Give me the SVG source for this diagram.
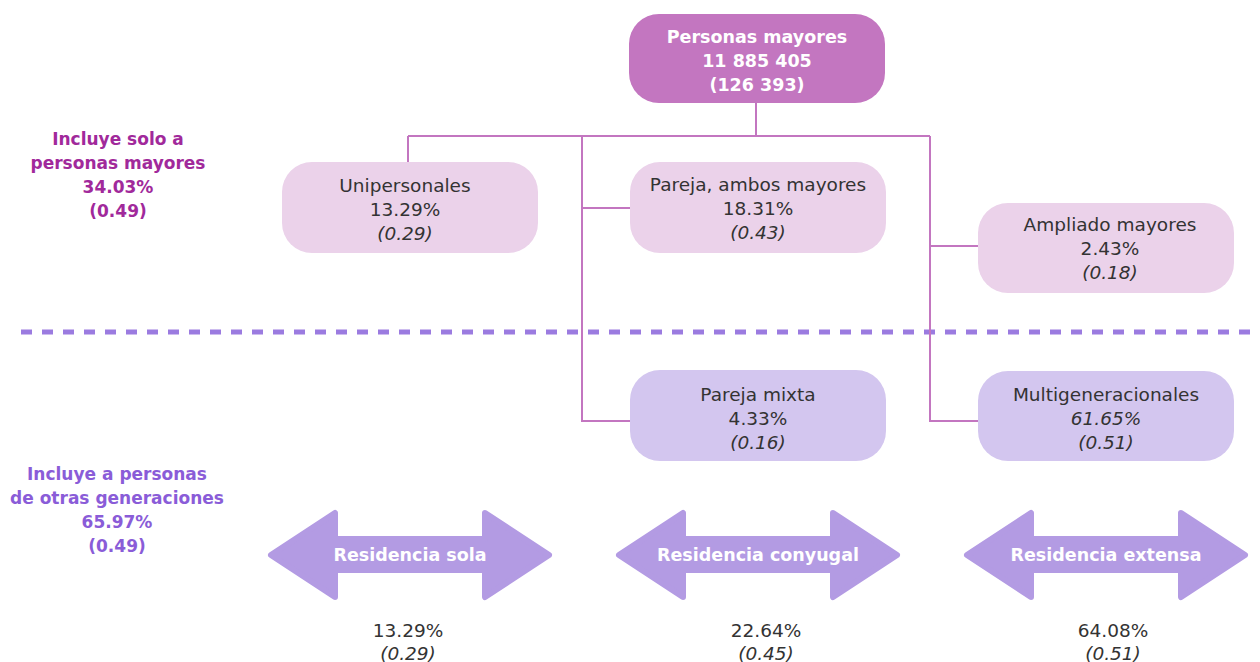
<svg xmlns="http://www.w3.org/2000/svg" width="1260" height="662" viewBox="0 0 1260 662">
<style>
text{font-family:"DejaVu Sans","Noto Sans","Liberation Sans",sans-serif;text-anchor:middle}
.t{font-size:18.5px;fill:#333333}
.i{font-style:italic}
.w{font-size:17.5px;fill:#ffffff;font-weight:bold}
.pink{fill:#ebd2ea}
.lav{fill:#d3c6ef}
.top{fill:#c376c0}
.arr{fill:#b39be3;stroke:#b39be3;stroke-width:6;stroke-linejoin:round}
.c{fill:none;stroke:#c376c0;stroke-width:2}
.m{font-size:17px;font-weight:bold;fill:#a1299b}
.p{font-size:17px;font-weight:bold;fill:#8a5cd8}
</style>
<line x1="16" y1="332" x2="1255" y2="332" stroke="#9b7be0" stroke-width="5" stroke-dasharray="11 10" stroke-dashoffset="16"/>
<g id="connectors">
<path class="c" d="M756 103V136M408 136H930M408 136V162M582 136V421H630M582 208H630M930 136V421H978M930 246H978"/>
</g>
<g id="root">
<rect class="top" x="629" y="14" width="256" height="89" rx="30"/>
<text class="w" x="757" y="43">Personas mayores</text>
<text class="w" x="757" y="67">11 885 405</text>
<text class="w" x="757" y="91">(126 393)</text>
</g>
<g id="unipersonales">
<rect class="pink" x="282" y="162" width="256" height="91" rx="30"/>
<text class="t" x="405" y="192">Unipersonales</text>
<text class="t" x="405" y="216">13.29%</text>
<text class="t i" x="405" y="240">(0.29)</text>
</g>
<g id="pareja-ambos">
<rect class="pink" x="630" y="162" width="256" height="91" rx="30"/>
<text class="t" x="758" y="191">Pareja, ambos mayores</text>
<text class="t" x="758" y="215">18.31%</text>
<text class="t i" x="758" y="239">(0.43)</text>
</g>
<g id="ampliado">
<rect class="pink" x="978" y="203" width="256" height="90" rx="30"/>
<text class="t" x="1110" y="231">Ampliado mayores</text>
<text class="t" x="1110" y="255">2.43%</text>
<text class="t i" x="1110" y="279">(0.18)</text>
</g>
<g id="pareja-mixta">
<rect class="lav" x="630" y="370" width="256" height="91" rx="30"/>
<text class="t" x="758" y="401">Pareja mixta</text>
<text class="t" x="758" y="425">4.33%</text>
<text class="t i" x="758" y="449">(0.16)</text>
</g>
<g id="multigeneracionales">
<rect class="lav" x="978" y="371" width="256" height="90" rx="30"/>
<text class="t" x="1106" y="401">Multigeneracionales</text>
<text class="t i" x="1106" y="425">61.65%</text>
<text class="t i" x="1106" y="449">(0.51)</text>
</g>
<g id="label-solo">
<text class="m" x="118" y="145">Incluye solo a</text>
<text class="m" x="118" y="169">personas mayores</text>
<text class="m" x="118" y="193">34.03%</text>
<text class="m" x="118" y="217">(0.49)</text>
</g>
<g id="label-otras">
<text class="p" x="117" y="480">Incluye a personas</text>
<text class="p" x="117" y="504">de otras generaciones</text>
<text class="p" x="117" y="528">65.97%</text>
<text class="p" x="117" y="552">(0.49)</text>
</g>
<g id="residencia-sola">
<polygon class="arr" points="271,555 335,513 335,539 485,539 485,513 549,555 485,597 485,570 335,570 335,597"/>
<text class="w" x="410" y="561">Residencia sola</text>
<text class="t" x="408" y="637">13.29%</text>
<text class="t i" x="408" y="660">(0.29)</text>
</g>
<g id="residencia-conyugal">
<polygon class="arr" points="619,555 683,513 683,539 833,539 833,513 897,555 833,597 833,570 683,570 683,597"/>
<text class="w" x="758" y="561">Residencia conyugal</text>
<text class="t" x="766" y="637">22.64%</text>
<text class="t i" x="766" y="660">(0.45)</text>
</g>
<g id="residencia-extensa">
<polygon class="arr" points="967,555 1031,513 1031,539 1181,539 1181,513 1245,555 1181,597 1181,570 1031,570 1031,597"/>
<text class="w" x="1106" y="561">Residencia extensa</text>
<text class="t" x="1113" y="637">64.08%</text>
<text class="t i" x="1113" y="660">(0.51)</text>
</g>
</svg>
